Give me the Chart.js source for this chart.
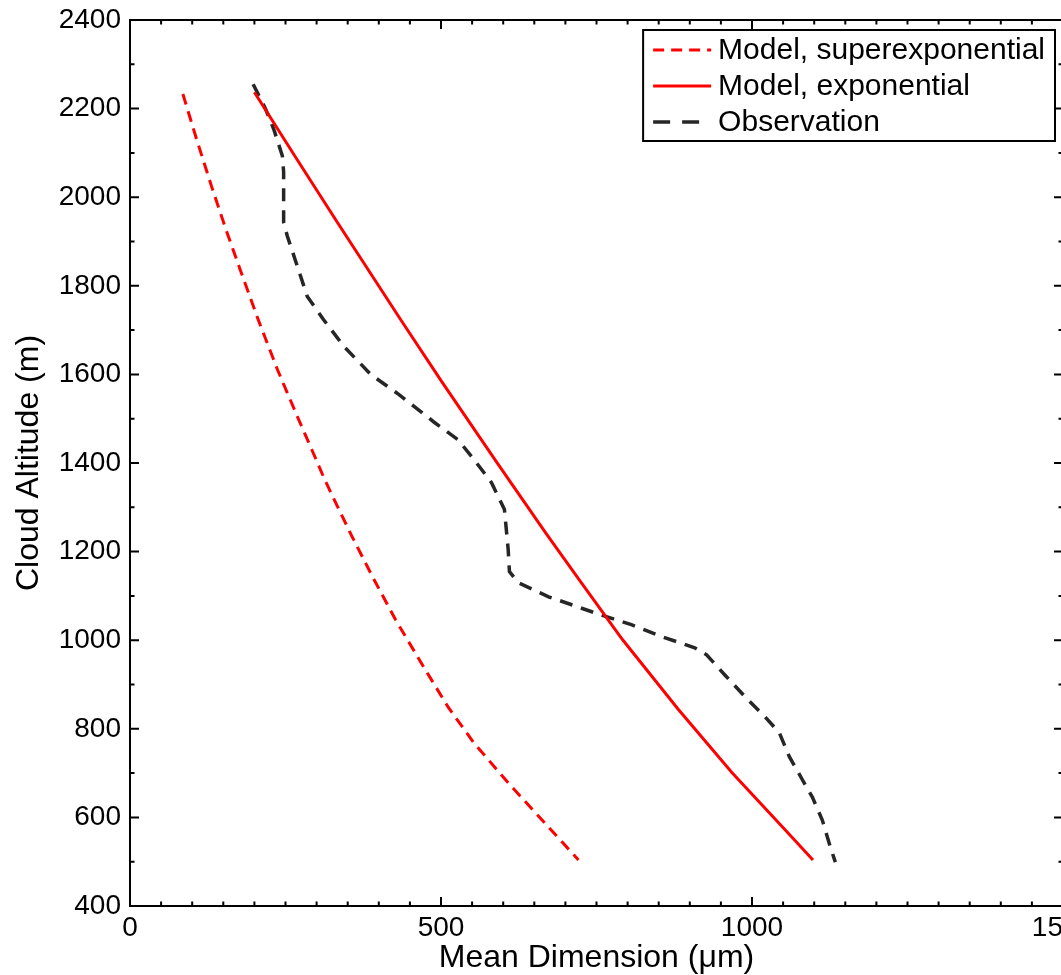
<!DOCTYPE html>
<html>
<head>
<meta charset="utf-8">
<title>Mean Dimension vs Cloud Altitude</title>
<script src="https://cdn.jsdelivr.net/npm/chart.js@4.4.0/dist/chart.umd.min.js"></script>
<style>
    html, body { margin: 0; padding: 0; background: #fff; overflow: hidden; }
    #wrap { width: 1100px; height: 975px; }
</style>
</head>
<body>
<div id="wrap"><canvas id="chart" width="1100" height="975"></canvas></div>
<script>
// Model, superexponential (mean dimension in um, altitude in m)
const superX   = [85, 107, 131, 154, 177, 206, 237, 269, 292, 311, 326, 357, 390, 427, 468, 511, 553, 608, 658, 721];
const superAlt = [2233, 2131, 2025, 1928, 1837, 1724, 1611, 1505, 1431, 1369, 1324, 1234, 1143, 1046, 949, 850, 768, 678, 601, 504];

// Model, exponential
const expX   = [200, 265, 333, 435, 502, 590, 668, 722, 792, 882, 968, 1058, 1098];
const expAlt = [2237, 2093, 1944, 1724, 1582, 1401, 1243, 1137, 1001, 843, 701, 565, 504];

// Observation
const obsX   = [198, 218, 231, 245, 247, 247, 253, 269, 285, 311, 344, 387, 432, 489, 527, 553, 581, 602, 608, 610, 624, 673, 747, 806, 855, 908, 927, 956, 989, 1021, 1044, 1060, 1081, 1097, 1113, 1126, 1134];
const obsAlt = [2255, 2199, 2154, 2093, 2057, 1943, 1912, 1844, 1776, 1724, 1663, 1600, 1555, 1492, 1453, 1408, 1356, 1295, 1205, 1155, 1130, 1098, 1062, 1035, 1008, 983, 967, 922, 872, 827, 791, 737, 685, 646, 594, 533, 499];

const xMin = 0, xMax = 1500, xMajor = 500, xMinor = 50;
const yMin = 400, yMax = 2400, yMajor = 200, yMinor = 100;

const toPoints = (xs, ys) => xs.map((v, i) => ({ x: v, y: ys[i] }));

Chart.defaults.font.family = '"Liberation Sans", Arial, sans-serif';
Chart.defaults.color = '#000';

// box round the plot with inward ticks on all four sides
const framePlugin = {
    id: 'frame',
    afterDatasetsDraw(chart) {
        const { ctx, chartArea: a, scales: { x, y } } = chart;
        ctx.save();
        ctx.strokeStyle = '#000';
        ctx.lineWidth = 2;
        ctx.setLineDash([]);
        ctx.strokeRect(a.left, a.top, a.right - a.left, a.bottom - a.top);
        ctx.beginPath();
        for (let v = xMin; v <= xMax; v += xMinor) {
            const px = x.getPixelForValue(v);
            const len = v % xMajor === 0 ? 9 : 4.5;
            ctx.moveTo(px, a.bottom); ctx.lineTo(px, a.bottom - len);
            ctx.moveTo(px, a.top); ctx.lineTo(px, a.top + len);
        }
        for (let v = yMin; v <= yMax; v += yMinor) {
            const py = y.getPixelForValue(v);
            const len = (v - yMin) % yMajor === 0 ? 9 : 4.5;
            ctx.moveTo(a.left, py); ctx.lineTo(a.left + len, py);
            ctx.moveTo(a.right, py); ctx.lineTo(a.right - len, py);
        }
        ctx.stroke();
        ctx.restore();
    }
};

// legend drawn inside the top right corner of the plot
const legendPlugin = {
    id: 'boxLegend',
    afterDraw(chart) {
        const { ctx, chartArea: a } = chart;
        const sets = chart.data.datasets;
        ctx.save();
        ctx.font = '30px "Liberation Sans", Arial, sans-serif';
        const textW = Math.max(...sets.map(d => ctx.measureText(d.label).width));
        const sample = 58, padL = 10, gap = 7, padR = 10, rowH = 36;
        const w = padL + sample + gap + textW + padR;
        const h = 111;
        const left = a.right - 8 - w;
        const top = a.top + 10;
        ctx.fillStyle = '#fff';
        ctx.fillRect(left, top, w, h);
        ctx.strokeStyle = '#000';
        ctx.lineWidth = 2;
        ctx.strokeRect(left, top, w, h);
        sets.forEach((d, i) => {
            const ry = top + 20 + i * rowH;
            ctx.beginPath();
            ctx.strokeStyle = d.borderColor;
            ctx.lineWidth = d.borderWidth;
            ctx.setLineDash(d.legendDash || d.borderDash || []);
            ctx.moveTo(left + padL, ry);
            ctx.lineTo(left + padL + sample, ry);
            ctx.stroke();
            ctx.setLineDash([]);
            ctx.fillStyle = '#000';
            ctx.textBaseline = 'middle';
            ctx.textAlign = 'left';
            ctx.fillText(d.label, left + padL + sample + gap, ry + 1);
        });
        ctx.restore();
    }
};

new Chart(document.getElementById('chart'), {
    type: 'scatter',
    data: {
        datasets: [
            {
                label: 'Model, superexponential',
                data: toPoints(superX, superAlt),
                showLine: true,
                borderColor: '#ff0000',
                borderWidth: 3,
                borderDash: [11, 7],
                pointRadius: 0
            },
            {
                label: 'Model, exponential',
                data: toPoints(expX, expAlt),
                showLine: true,
                borderColor: '#ff0000',
                borderWidth: 3,
                pointRadius: 0
            },
            {
                label: 'Observation',
                data: toPoints(obsX, obsAlt),
                showLine: true,
                borderColor: '#262626',
                borderWidth: 3.5,
                borderDash: [13, 9],
                legendDash: [17, 12],
                pointRadius: 0
            }
        ]
    },
    options: {
        responsive: false,
        animation: false,
        layout: { padding: { left: 0, top: 20, right: 37, bottom: 0 } },
        plugins: {
            legend: { display: false },
            tooltip: { enabled: false }
        },
        scales: {
            x: {
                type: 'linear',
                min: xMin,
                max: xMax,
                grid: { display: false, drawTicks: false },
                border: { display: false },
                ticks: { stepSize: xMajor, padding: 5, font: { size: 28 }, maxRotation: 0, callback: v => String(v) },
                title: {
                    display: true,
                    text: 'Mean Dimension (\u03bcm)',
                    font: { size: 32, lineHeight: 1.0 },
                    padding: { top: 0, bottom: 1 }
                },
                afterFit(scale) {
                    scale.height = 69;
                    scale.paddingLeft = 0;
                    scale.paddingRight = 0;
                }
            },
            y: {
                type: 'linear',
                min: yMin,
                max: yMax,
                grid: { display: false, drawTicks: false },
                border: { display: false },
                ticks: { stepSize: yMajor, padding: 9, font: { size: 28 }, callback: v => String(v) },
                title: {
                    display: true,
                    text: 'Cloud Altitude (m)',
                    font: { size: 32, lineHeight: 1.0 },
                    padding: { top: 13, bottom: 0 }
                },
                afterFit(scale) {
                    scale.width = 130;
                    scale.paddingTop = 0;
                    scale.paddingBottom = 0;
                }
            }
        }
    },
    plugins: [framePlugin, legendPlugin]
});
</script>
</body>
</html>
